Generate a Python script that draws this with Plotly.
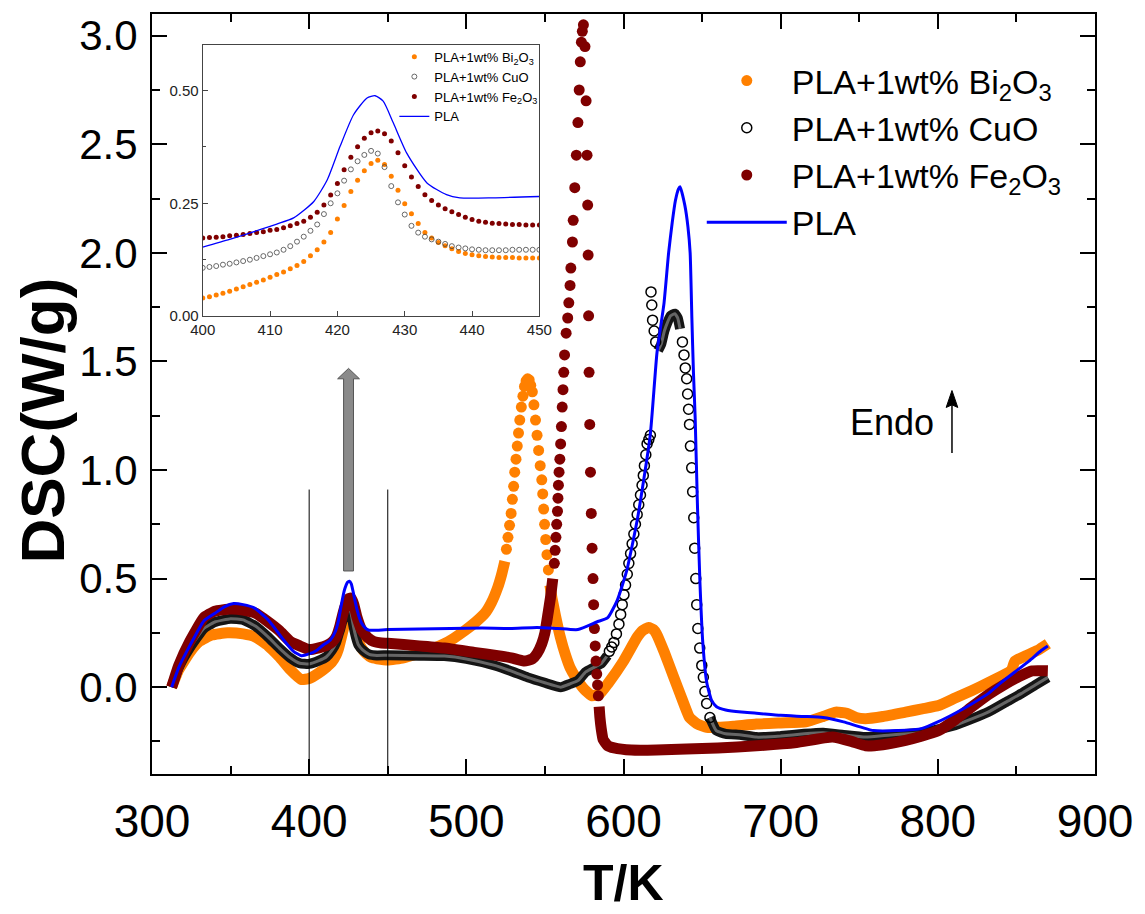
import plotly.graph_objects as go

# ---------------- main chart data (T in K, DSC in W/g) ----------------
# PLA (solid line)
pla_T = [312.5, 317, 324, 333, 340, 346, 352, 358, 365, 374.5, 384, 390, 395, 400, 405, 408.6,
         413.5, 416.5, 418.5, 420.4, 422.4, 424.4, 425.6, 426.8, 428.3, 430.3, 433.3, 436.2,
         438.2, 443, 450, 470, 490, 510, 528, 545, 558, 571, 583, 590, 596, 602, 609, 617,
         621.3, 625.8, 628.7, 631, 633, 635, 636, 639, 641, 642.4, 643.5, 644.5, 645.6, 647,
         648.7, 650.5, 653, 656, 659.2, 665, 675, 684.6, 700, 715, 727, 740, 759, 775, 790,
         800, 811, 822, 832, 840, 849, 858, 866, 870]
pla_dsc = [0.0, 0.09, 0.19, 0.305, 0.34, 0.37, 0.385, 0.38, 0.365, 0.305, 0.215, 0.165, 0.145,
           0.153, 0.17, 0.192, 0.2175, 0.254, 0.302, 0.376, 0.446, 0.483, 0.488, 0.476, 0.428,
           0.361, 0.295, 0.269, 0.262, 0.262, 0.265, 0.268, 0.27, 0.272, 0.27, 0.275, 0.27,
           0.265, 0.30, 0.32, 0.40, 0.535, 0.78, 1.16, 1.54, 1.77, 2.0, 2.14, 2.24, 2.295, 2.305,
           2.22, 2.12, 2.0, 1.7, 1.45, 1.24, 0.85, 0.47, 0.2, 0.02, -0.06, -0.09, -0.105,
           -0.115, -0.12, -0.13, -0.135, -0.14, -0.16, -0.20, -0.20, -0.19, -0.16, -0.12,
           -0.075, -0.03, 0.02, 0.07, 0.12, 0.17, 0.19]

# PLA+1wt% Bi2O3 : dense part before peak, isolated points on the peak, dense part after
bi_T_a = [312.5, 317, 324, 330, 338, 348, 358, 366, 374, 381, 388, 395, 400, 406.2, 411, 414.3,
          417.2, 418.5, 420.2, 421.3, 422.3, 423.4, 425.1, 426.4, 427.2, 428.2, 429.2, 430.2,
          431.3, 432, 434, 436.2, 439.7, 443.1, 450, 460, 469.5, 478, 486, 492, 499, 506,
          511.8, 516, 520, 522.5, 524.5]
bi_dsc_a = [0.0, 0.08, 0.16, 0.21, 0.24, 0.25, 0.245, 0.23, 0.19, 0.14, 0.08, 0.035, 0.04,
            0.066, 0.092, 0.114, 0.149, 0.173, 0.221, 0.254, 0.284, 0.31, 0.341, 0.345, 0.333,
            0.304, 0.273, 0.243, 0.221, 0.199, 0.173, 0.155, 0.136, 0.131, 0.125, 0.135, 0.155,
            0.175, 0.20, 0.225, 0.26, 0.30, 0.34, 0.39, 0.46, 0.52, 0.58]
bi_T_peak = [525.5, 526.5, 527.5, 528.5, 529.3, 530.1, 530.8, 531.6, 532.4, 533.2, 534, 535,
             536, 537, 538, 539, 540, 541, 542, 543, 544, 545, 546, 547, 548, 548.6, 549.2,
             549.8, 550.5, 551.3, 552.2]
bi_dsc_peak = [0.635, 0.69, 0.745, 0.80, 0.865, 0.925, 0.99, 1.05, 1.11, 1.17, 1.23, 1.29,
               1.34, 1.385, 1.41, 1.42, 1.415, 1.39, 1.36, 1.30, 1.23, 1.16, 1.09, 1.02, 0.955,
               0.89, 0.82, 0.75, 0.68, 0.61, 0.54]
bi_T_b = [553.2, 554.5, 556.7, 559.8, 563, 566, 570, 575, 580, 585, 590, 600, 608.7, 612, 616,
          619, 621, 626, 632, 637, 642, 647, 653, 660, 670, 684.6, 700, 716, 727, 735, 742,
          748, 754, 765, 779.5, 790, 800.5, 811, 821.8, 832, 843, 847, 849, 856, 863.6, 870]
bi_dsc_b = [0.47, 0.41, 0.33, 0.23, 0.15, 0.09, 0.04, -0.01, -0.04, -0.03, 0.015, 0.12, 0.23,
            0.26, 0.275, 0.265, 0.245, 0.16, 0.045, -0.05, -0.14, -0.17, -0.185, -0.185, -0.18,
            -0.17, -0.165, -0.16, -0.135, -0.115, -0.12, -0.14, -0.145, -0.135, -0.115, -0.1,
            -0.085, -0.05, -0.015, 0.02, 0.06, 0.08, 0.12, 0.145, 0.17, 0.2]

# PLA+1wt% CuO
cu_T_a = [312.5, 317, 324, 333, 340, 350, 358, 366, 374, 381, 388, 394, 400, 406.2, 411, 414.5,
          417, 418.7, 419.7, 421.2, 423.4, 425.4, 426.6, 428.2, 429.8, 431.3, 434.2, 438.2,
          443.1, 450, 470, 486, 500, 518, 530, 539, 550, 560, 566, 571, 576, 581, 586, 589.7]
cu_dsc_a = [0.0, 0.09, 0.18, 0.27, 0.30, 0.315, 0.31, 0.28, 0.23, 0.18, 0.135, 0.11, 0.107,
            0.122, 0.14, 0.17, 0.203, 0.243, 0.265, 0.306, 0.347, 0.367, 0.343, 0.28, 0.229,
            0.195, 0.17, 0.151, 0.146, 0.147, 0.145, 0.143, 0.13, 0.10, 0.07, 0.045, 0.02, 0.0,
            0.015, 0.03, 0.07, 0.09, 0.11, 0.145]
cu_T_rise = [591, 592.5, 593.9, 595.5, 597.1, 598.2, 599.2, 600.3, 601.3, 602.4, 603.4, 604.5,
             605.5, 606.6, 607.6, 608.7, 609.7, 610.8, 611.8, 612.6, 613.3, 614.2, 615, 616.1,
             617.1]
cu_dsc_rise = [0.165, 0.185, 0.206, 0.245, 0.29, 0.335, 0.38, 0.425, 0.47, 0.52, 0.57, 0.615,
               0.66, 0.705, 0.75, 0.795, 0.84, 0.885, 0.93, 0.975, 1.02, 1.07, 1.12, 1.14, 1.16]
cu_T_jump = [617.5, 618, 618.5, 619.5, 620.5]
cu_dsc_jump = [1.82, 1.76, 1.69, 1.64, 1.59]
cu_T_top = [622, 624, 626, 628, 630, 632.7, 634.5, 636]
cu_dsc_top = [1.55, 1.58, 1.64, 1.68, 1.71, 1.72, 1.70, 1.65]
cu_T_fall = [637.5, 638.5, 639.3, 640.2, 640.8, 641.4, 642, 642.6, 643.4, 644, 644.7, 645.3,
             646, 646.6, 647.3, 648.5, 649.8, 650.8, 651.8, 652.9, 655]
cu_dsc_fall = [1.59, 1.53, 1.47, 1.42, 1.35, 1.28, 1.21, 1.11, 1.01, 0.90, 0.78, 0.64, 0.50,
               0.38, 0.27, 0.18, 0.10, 0.045, -0.02, -0.075, -0.14]
cu_T_b = [655, 659, 665, 675, 684.6, 700, 715, 727, 740, 754, 770, 790, 800, 811, 822, 832,
          843, 853, 862, 870]
cu_dsc_b = [-0.14, -0.2, -0.215, -0.22, -0.23, -0.225, -0.215, -0.21, -0.22, -0.23, -0.22,
            -0.21, -0.195, -0.175, -0.145, -0.115, -0.07, -0.03, 0.01, 0.045]

# PLA+1wt% Fe2O3
fe_T_a = [312.5, 317, 324, 333, 340, 350, 358, 366, 374, 381, 388, 394, 400, 406.2, 411, 415,
          417.5, 419.5, 421.4, 423.4, 425.4, 426.6, 428.3, 430.3, 433.3, 437.2, 441.1, 446,
          450, 470, 486, 505, 520, 528.5, 537, 542, 545, 548, 550, 552, 553.5, 555]
fe_dsc_a = [0.0, 0.1, 0.21, 0.32, 0.35, 0.36, 0.355, 0.34, 0.30, 0.26, 0.21, 0.19, 0.173,
            0.181, 0.192, 0.21, 0.236, 0.28, 0.336, 0.383, 0.409, 0.41, 0.383, 0.325, 0.265,
            0.229, 0.21, 0.203, 0.202, 0.19, 0.18, 0.16, 0.145, 0.135, 0.12, 0.13, 0.155, 0.2,
            0.25, 0.34, 0.41, 0.5]
fe_T_spike = [556, 556.5, 557, 557.5, 558, 558.3, 558.6, 559, 559.5, 560, 560.5, 561, 561.5,
              562, 562.5, 563.5, 564.5, 565.2, 566, 566.5, 567.5, 568, 569, 570, 571, 571.8,
              572.5, 573.2, 573.8, 574.5, 575.5, 576.2, 576.8, 577.2, 577.5, 577.8, 578.1,
              578.5, 579, 579.5, 580, 580.6, 581, 581.5, 582, 582.5, 583, 583.5, 584]
fe_dsc_spike = [0.57, 0.63, 0.69, 0.75, 0.81, 0.87, 0.93, 0.99, 1.05, 1.12, 1.20, 1.29, 1.37,
                1.45, 1.53, 1.63, 1.70, 1.77, 1.85, 1.93, 2.05, 2.15, 2.3, 2.45, 2.6, 2.75,
                2.88, 2.97, 3.02, 3.05, 2.95, 2.7, 2.45, 2.22, 1.99, 1.71, 1.45, 1.21, 0.99,
                0.80, 0.64, 0.50, 0.38, 0.27, 0.19, 0.12, 0.06, 0.01, -0.04]
fe_T_b = [584.5, 585, 585.8, 587, 590, 594, 605, 621, 640, 660, 684.6, 710, 733, 745, 754, 765,
          779.5, 790, 800.5, 811, 821.8, 832, 843, 852, 860, 870]
fe_dsc_b = [-0.09, -0.14, -0.19, -0.24, -0.27, -0.28, -0.29, -0.29, -0.285, -0.28, -0.27,
            -0.255, -0.23, -0.25, -0.27, -0.265, -0.245, -0.225, -0.2, -0.15, -0.09, -0.035,
            0.015, 0.05, 0.075, 0.075]

# ---------------- inset data (400-450 K) ----------------
ins_T = [400, 401, 402, 403, 404, 405, 406, 407, 408, 409, 410, 411, 412, 413, 414, 415, 416,
         417, 418, 419, 420, 421, 422, 423, 424, 425, 426, 427, 428, 429, 430, 431, 432, 433,
         434, 435, 436, 437, 438, 439, 440, 441, 442, 443, 444, 445, 446, 447, 448, 449, 450]
ins_bi = [0.040, 0.043, 0.047, 0.051, 0.055, 0.060, 0.065, 0.070, 0.075, 0.080, 0.086, 0.092,
          0.098, 0.105, 0.112, 0.121, 0.134, 0.147, 0.164, 0.185, 0.215, 0.245, 0.276, 0.301,
          0.322, 0.338, 0.345, 0.336, 0.310, 0.279, 0.249, 0.227, 0.205, 0.185, 0.173, 0.163,
          0.156, 0.149, 0.143, 0.139, 0.136, 0.134, 0.132, 0.131, 0.130, 0.130, 0.130, 0.129,
          0.129, 0.129, 0.129]
ins_cu = [0.107, 0.109, 0.111, 0.114, 0.116, 0.119, 0.122, 0.125, 0.129, 0.133, 0.137, 0.141,
          0.147, 0.155, 0.165, 0.176, 0.189, 0.203, 0.226, 0.250, 0.272, 0.300, 0.325, 0.343,
          0.357, 0.366, 0.360, 0.330, 0.288, 0.252, 0.225, 0.200, 0.185, 0.176, 0.170, 0.165,
          0.160, 0.155, 0.152, 0.150, 0.148, 0.147, 0.146, 0.146, 0.146, 0.146, 0.147, 0.147,
          0.147, 0.147, 0.147]
ins_fe = [0.173, 0.174, 0.175, 0.176, 0.178, 0.179, 0.181, 0.183, 0.185, 0.187, 0.190, 0.192,
          0.196, 0.200, 0.205, 0.210, 0.219, 0.230, 0.246, 0.268, 0.294, 0.324, 0.352, 0.375,
          0.394, 0.406, 0.410, 0.404, 0.388, 0.362, 0.333, 0.308, 0.287, 0.269, 0.256, 0.246,
          0.238, 0.231, 0.225, 0.219, 0.214, 0.210, 0.208, 0.206, 0.205, 0.204, 0.203, 0.203,
          0.202, 0.202, 0.202]
ins_pla_T = [400, 404, 408.6, 411, 413.5, 416.5, 418.5, 420.4, 422.4, 424.4, 425.6, 426.8,
             428.3, 430.3, 433.3, 436.2, 438.2, 443.1, 450]
ins_pla = [0.153, 0.170, 0.192, 0.204, 0.2175, 0.254, 0.302, 0.376, 0.446, 0.483, 0.488,
           0.476, 0.428, 0.361, 0.295, 0.269, 0.262, 0.262, 0.265]

names = ["PLA+1wt% Bi<sub>2</sub>O<sub>3</sub>", "PLA+1wt% CuO",
         "PLA+1wt% Fe<sub>2</sub>O<sub>3</sub>", "PLA"]

ORANGE = "#FF8000"
DARKRED = "#7F0000"
BLUE = "#0000FF"
FONT = "Liberation Sans, Arial, sans-serif"

fig = go.Figure()
BW = 11  # width of dense dotted band


def band(x, y, color, width=BW):
    fig.add_trace(go.Scatter(x=x, y=y, mode="lines", showlegend=False, hoverinfo="skip",
                             line=dict(color=color, width=width, shape="spline", smoothing=0.4)))


def dots(x, y, color, name=None, open_=False, size=11):
    if open_:
        mk = dict(symbol="circle-open", size=size - 1, color="black",
                  line=dict(width=1.5, color="black"))
    else:
        mk = dict(symbol="circle", size=size, color=color, line=dict(width=0))
    fig.add_trace(go.Scatter(x=x, y=y, mode="markers", marker=mk, name=name or "",
                             showlegend=name is not None, legend="legend"))


# Bi2O3
band(bi_T_a, bi_dsc_a, ORANGE)
band(bi_T_b, bi_dsc_b, ORANGE)
dots(bi_T_peak, bi_dsc_peak, ORANGE, names[0])
# CuO
for xs, ys in [(cu_T_a, cu_dsc_a), (cu_T_top, cu_dsc_top), (cu_T_b, cu_dsc_b)]:
    band(xs, ys, "#151515", 10)
    band(xs, ys, "#666666", 3)
dots(cu_T_rise + cu_T_jump + cu_T_fall, cu_dsc_rise + cu_dsc_jump + cu_dsc_fall, "black",
     names[1], open_=True)
# Fe2O3
band(fe_T_a, fe_dsc_a, DARKRED)
band(fe_T_b, fe_dsc_b, DARKRED)
dots(fe_T_spike, fe_dsc_spike, DARKRED, names[2])
# PLA
fig.add_trace(go.Scatter(x=pla_T, y=pla_dsc, mode="lines", name=names[3],
                         line=dict(color=BLUE, width=3, shape="spline", smoothing=0.5),
                         legend="legend"))

# inset traces
fig.add_trace(go.Scatter(x=ins_T, y=ins_bi, mode="markers", xaxis="x2", yaxis="y2",
                         name=names[0], legend="legend2",
                         marker=dict(size=5, color=ORANGE)))
fig.add_trace(go.Scatter(x=ins_T, y=ins_cu, mode="markers", xaxis="x2", yaxis="y2",
                         name=names[1], legend="legend2",
                         marker=dict(size=5, symbol="circle-open", color="#444",
                                     line=dict(width=0.8, color="#444"))))
fig.add_trace(go.Scatter(x=ins_T, y=ins_fe, mode="markers", xaxis="x2", yaxis="y2",
                         name=names[2], legend="legend2",
                         marker=dict(size=5, color=DARKRED)))
fig.add_trace(go.Scatter(x=ins_pla_T, y=ins_pla, mode="lines", xaxis="x2", yaxis="y2",
                         name=names[3], legend="legend2",
                         line=dict(color=BLUE, width=1.3, shape="spline", smoothing=0.6)))

axis_common = dict(showline=True, linewidth=2, linecolor="black", mirror="allticks",
                   ticks="inside", ticklen=15, tickwidth=2, tickcolor="black",
                   showgrid=False, zeroline=False)

fig.update_layout(
    width=1145, height=914,
    margin=dict(l=152, r=45, t=12, b=140),
    paper_bgcolor="white", plot_bgcolor="white",
    font=dict(family=FONT, color="black"),
    xaxis=dict(range=[300, 900], dtick=100, tick0=300,
               tickfont=dict(size=46), ticklabelstandoff=6,
               minor=dict(dtick=50, ticklen=8, tickwidth=2, ticks="inside", tickcolor="black"),
               **axis_common),
    yaxis=dict(range=[-0.4, 3.1], dtick=0.5, tick0=0, tickformat=".1f",
               tickfont=dict(size=42), ticklabelstandoff=4,
               minor=dict(dtick=0.25, ticklen=8, tickwidth=2, ticks="inside", tickcolor="black"),
               **axis_common),
    xaxis2=dict(domain=[0.0538, 0.4108], anchor="y2", range=[400, 450], dtick=10,
                showline=True, linewidth=1.2, linecolor="#444", mirror=True,
                ticks="inside", ticklen=5, tickwidth=1, tickcolor="#444",
                tickfont=dict(size=15, color="#222"), showgrid=False, zeroline=False),
    yaxis2=dict(domain=[0.6024, 0.959], anchor="x2", range=[0, 0.6],
                tickvals=[0, 0.25, 0.5], ticktext=["0.00", "0.25", "0.50"],
                showline=True, linewidth=1.2, linecolor="#444", mirror=True,
                ticks="inside", ticklen=5, tickwidth=1, tickcolor="#444",
                minor=dict(dtick=0.125, ticklen=3, ticks="inside", tickcolor="#444"),
                tickfont=dict(size=15, color="#222"), showgrid=False, zeroline=False),
    legend=dict(x=0.583, y=0.950, xanchor="left", yanchor="top", itemwidth=80,
                font=dict(size=34, family=FONT), bgcolor="rgba(0,0,0,0)",
                tracegroupgap=0, traceorder="normal"),
    legend2=dict(x=0.257, y=0.9635, xanchor="left", yanchor="top", itemwidth=30,
                 font=dict(size=13, family=FONT), bgcolor="rgba(0,0,0,0)",
                 traceorder="normal"),
    showlegend=True,
)

# vertical guide lines at 400 K and 450 K
for xv in (400, 450):
    fig.add_shape(type="line", xref="x", yref="y", x0=xv, x1=xv, y0=0.91, y1=-0.4,
                  line=dict(color="black", width=1))

# grey block arrow pointing to the inset
fig.add_shape(type="path", xref="x", yref="y",
              path="M 421.9 0.535 L 428.2 0.535 L 428.2 1.42 L 432 1.42 L 425.05 1.468 "
                   "L 418.1 1.42 L 421.9 1.42 Z",
              fillcolor="#8a8a8a", line=dict(color="#555555", width=1))

# Endo arrow
fig.add_shape(type="line", xref="x", yref="y", x0=809, x1=809, y0=1.078, y1=1.31,
              line=dict(color="black", width=1.5))
fig.add_shape(type="path", xref="x", yref="y",
              path="M 805.3 1.288 L 809 1.366 L 812.7 1.288 L 809 1.30 Z",
              fillcolor="black", line=dict(color="black", width=1))
fig.add_annotation(x=770.7, y=1.22, xref="x", yref="y", text="Endo", showarrow=False,
                   font=dict(size=36, family=FONT, color="black"))

# axis titles
fig.add_annotation(x=0.5, y=-0.1835, xref="paper", yref="paper", text="<b>T/K</b>",
                   showarrow=False, font=dict(size=50, family=FONT), yanchor="bottom")
fig.add_annotation(x=-0.116, y=0.4646, xref="paper", yref="paper", text="<b>DSC(W/g)</b>",
                   showarrow=False, textangle=-90, font=dict(size=62, family=FONT),
                   xanchor="center", yanchor="middle")

fig.write_html("out.html", config={"displayModeBar": False},
               post_script="document.body.style.margin='0px';")
